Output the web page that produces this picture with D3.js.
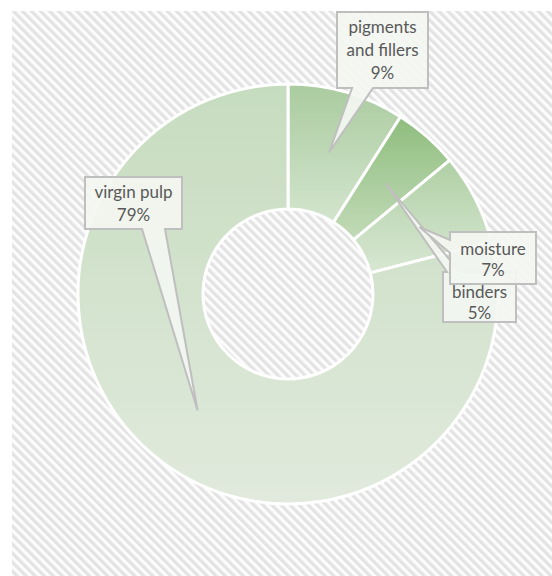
<!DOCTYPE html>
<html><head><meta charset="utf-8">
<script src="https://cdn.jsdelivr.net/npm/d3@7"></script>
<style>html,body{margin:0;padding:0;background:#fff;}svg{display:block;}</style>
</head><body>
<script>
const categories = ["pigments and fillers", "binders", "moisture", "virgin pulp"];
const values = [9, 5, 7, 79];
const labelLines = [["pigments", "and fillers", "9%"], ["binders", "5%"], ["moisture", "7%"], ["virgin pulp", "79%"]];
const topColors = ["#aacb9f", "#8fbd7e", "#b0d0a5", "#c6dcbf"];
const bottomColors = ["#d3e5ce", "#c2dbb8", "#d8e7d3", "#e1eadd"];

const W = 552, H = 576;
const cx = 288, cy = 294, R = 210, r0 = 85;

// callout box layout: box, edge for tail, tail base offsets
const callouts = [
  {x: 337, y: 12, w: 91, h: 76, edge: "bottom", b1: 352, b2: 373, ty: 33, lh: 23},
  {x: 443, y: 272, w: 73, h: 50, edge: "top", b1: 447, b2: 460, ty: 298, lh: 21},
  {x: 450, y: 232, w: 86, h: 52, edge: "left", b1: 240, b2: 253, ty: 255, lh: 21},
  {x: 85, y: 177, w: 97, h: 52, edge: "bottom", b1: 142, b2: 165, ty: 198, lh: 23}
];

const svg = d3.select("body").append("svg").attr("width", W).attr("height", H);
const defs = svg.append("defs");
const pat = defs.append("pattern").attr("id", "hatch").attr("patternUnits", "userSpaceOnUse")
  .attr("width", 6.4).attr("height", 6.4).attr("patternTransform", "rotate(-45)");
pat.append("rect").attr("width", 6.4).attr("height", 6.4).attr("fill", "#fcfcfc");
pat.append("rect").attr("width", 3.2).attr("height", 6.4).attr("fill", "#e3e3e3");

categories.forEach((c, i) => {
  const g = defs.append("linearGradient").attr("id", "grad" + i).attr("x1", 0).attr("y1", 0).attr("x2", 0).attr("y2", 1);
  g.append("stop").attr("offset", "0%").attr("stop-color", topColors[i]);
  g.append("stop").attr("offset", "100%").attr("stop-color", bottomColors[i]);
});

svg.append("rect").attr("x", 12).attr("y", 11).attr("width", W - 12).attr("height", H - 11).attr("fill", "url(#hatch)");

const pie = d3.pie().sort(null).value(d => d)(values);
const arc = d3.arc().innerRadius(r0).outerRadius(R);
const g = svg.append("g").attr("transform", `translate(${cx},${cy})`);
g.selectAll("path.slice").data(pie).join("path").attr("class", "slice")
  .attr("d", arc).attr("fill", (d, i) => `url(#grad${i})`)
  .attr("stroke", "#fff").attr("stroke-width", 3).attr("stroke-linejoin", "round");

function calloutPath(c, tip) {
  const x0 = c.x, y0 = c.y, x1 = c.x + c.w, y1 = c.y + c.h;
  let pts;
  if (c.edge === "bottom") {
    pts = [[x0, y0], [x1, y0], [x1, y1], [c.b2, y1], tip, [c.b1, y1], [x0, y1]];
  } else if (c.edge === "top") {
    pts = [[x0, y0], [c.b1, y0], tip, [c.b2, y0], [x1, y0], [x1, y1], [x0, y1]];
  } else {
    pts = [[x0, y0], [x1, y0], [x1, y1], [x0, y1], [x0, c.b2], tip, [x0, c.b1]];
  }
  return "M" + pts.map(p => p.join(",")).join("L") + "Z";
}

const lab = svg.append("g");
pie.forEach((d, i) => {
  const c = callouts[i];
  const cen = arc.centroid(d);
  const tip = [cx + cen[0], cy + cen[1]];
  const cg = lab.append("g");
  cg.append("path").attr("d", calloutPath(c, tip))
    .attr("fill", "#f3f6f1").attr("fill-opacity", 0.93)
    .attr("stroke", "#bfbfbf").attr("stroke-width", 2).attr("stroke-linejoin", "miter");
  labelLines[i].forEach((t, j) => {
    cg.append("text").attr("x", c.x + c.w / 2).attr("y", c.ty + j * c.lh)
      .attr("text-anchor", "middle").attr("font-family", "Lato, 'Open Sans', sans-serif")
      .attr("font-size", 17).attr("fill", "#595959").text(t);
  });
});
</script>
</body></html>
